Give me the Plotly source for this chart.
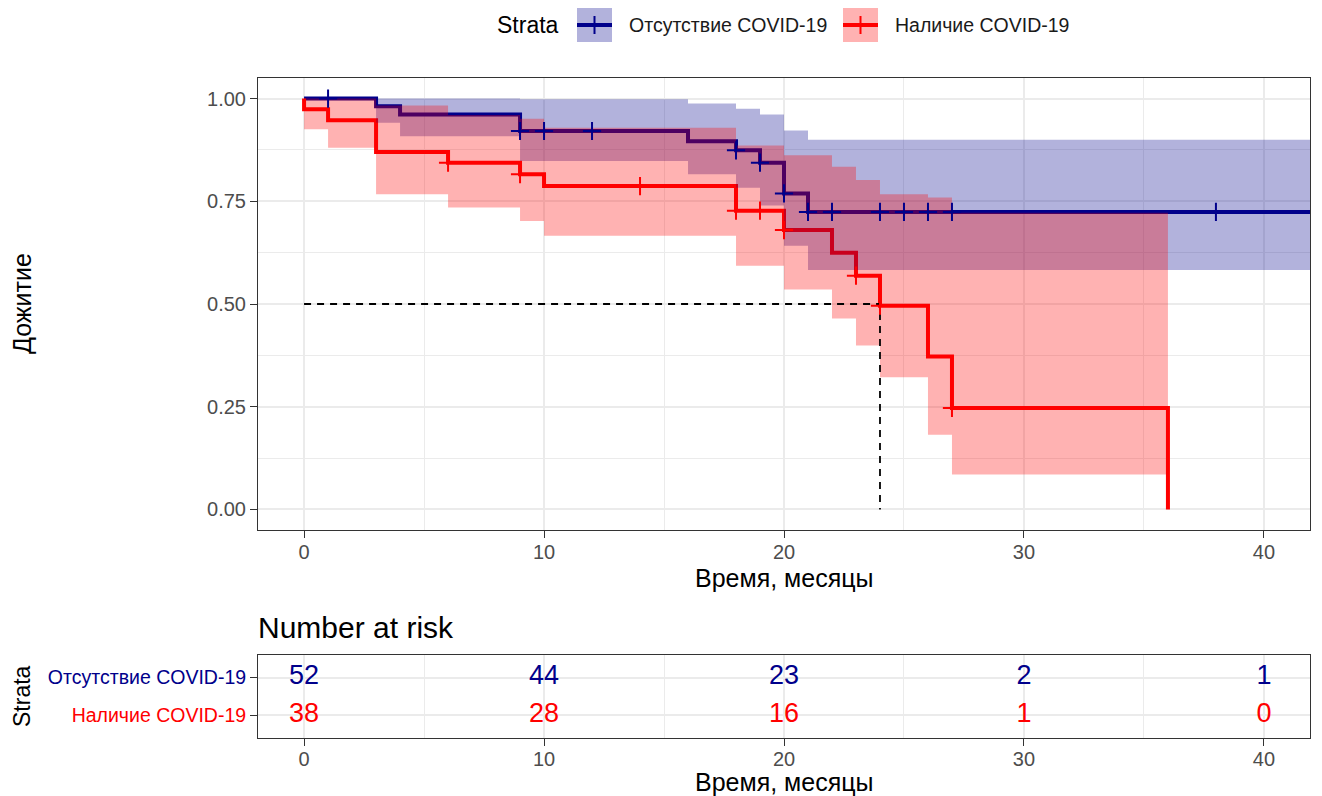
import plotly.graph_objects as go

# ---------------- data ----------------
strata_names = ["Отсутствие COVID-19", "Наличие COVID-19"]
blue_color = "#00008B"
red_color = "#FF0000"

# Отсутствие COVID-19
blue_time = [0, 3, 4, 9, 16, 18, 19, 20, 21]
blue_surv = [1.0, 0.981, 0.961, 0.921, 0.896, 0.874, 0.844, 0.769, 0.724]
blue_upper = [1.0, 1.0, 1.0, 0.998, 0.988, 0.975, 0.961, 0.922, 0.900]
blue_lower = [1.0, 0.941, 0.908, 0.848, 0.816, 0.783, 0.740, 0.642, 0.583]
blue_last_followup = 42.5
blue_censor = [1, 9, 10, 12, 18, 19, 20, 21, 22, 24, 25, 26, 27, 38]

# Наличие COVID-19
red_time = [0, 0, 1, 3, 6, 9, 10, 18, 20, 22, 23, 24, 26, 27, 36]
red_surv = [1.0, 0.974, 0.947, 0.870, 0.844, 0.816, 0.787, 0.727, 0.680,
            0.625, 0.569, 0.496, 0.372, 0.247, 0.0]
red_upper = [1.0, 1.0, 1.0, 0.983, 0.960, 0.951, 0.929, 0.886, 0.862,
             0.834, 0.802, 0.767, 0.759, 0.722]
red_lower = [1.0, 0.925, 0.880, 0.767, 0.735, 0.702, 0.666, 0.593, 0.535,
             0.465, 0.399, 0.322, 0.182, 0.085]
red_censor = [6, 9, 14, 18, 19, 20, 23, 24, 27]

# Number at risk
risk_times = [0, 10, 20, 30, 40]
risk_blue = [52, 44, 23, 2, 1]
risk_red = [38, 28, 16, 1, 0]

x_ticks = [0, 10, 20, 30, 40]
y_ticks = [0, 0.25, 0.5, 0.75, 1.0]

# ---------------- helpers ----------------
def step_value(times, vals, t):
    v = vals[0]
    for ti, vi in zip(times, vals):
        if ti <= t:
            v = vi
    return v

W, H = 1322, 796
def px(x):
    return x / W
def py(y):
    return 1 - y / H

FONT = "Liberation Sans, Arial, Helvetica, sans-serif"
GRID = "#EBEBEB"
TXT = "#4D4D4D"

fig = go.Figure()

# lines (drawn first, ribbons above them as in the reference)
fig.add_trace(go.Scatter(x=blue_time + [blue_last_followup], y=blue_surv + [blue_surv[-1]],
                         mode="lines", line=dict(color=blue_color, width=4, shape="hv"),
                         showlegend=False, xaxis="x", yaxis="y"))
fig.add_trace(go.Scatter(x=red_time, y=red_surv, mode="lines",
                         line=dict(color=red_color, width=4, shape="hv"),
                         showlegend=False, xaxis="x", yaxis="y"))

# ribbons
fig.add_trace(go.Scatter(x=blue_time + [blue_last_followup], y=blue_lower + [blue_lower[-1]],
                         mode="lines", line=dict(width=0, shape="hv", color="rgba(0,0,0,0)"),
                         showlegend=False, hoverinfo="skip"))
fig.add_trace(go.Scatter(x=blue_time + [blue_last_followup], y=blue_upper + [blue_upper[-1]],
                         mode="lines", line=dict(width=0, shape="hv", color="rgba(0,0,0,0)"),
                         fill="tonexty", fillcolor="rgba(0,0,139,0.3)",
                         showlegend=False, hoverinfo="skip"))
red_rib_t = red_time[:len(red_lower)] + [red_time[-1]]
fig.add_trace(go.Scatter(x=red_rib_t, y=red_lower + [red_lower[-1]],
                         mode="lines", line=dict(width=0, shape="hv", color="rgba(0,0,0,0)"),
                         showlegend=False, hoverinfo="skip"))
fig.add_trace(go.Scatter(x=red_rib_t, y=red_upper + [red_upper[-1]],
                         mode="lines", line=dict(width=0, shape="hv", color="rgba(0,0,0,0)"),
                         fill="tonexty", fillcolor="rgba(255,0,0,0.3)",
                         showlegend=False, hoverinfo="skip"))

# median line
median_t = next(t for t, s in zip(red_time, red_surv) if s <= 0.5)
fig.add_trace(go.Scatter(x=[0, median_t, median_t], y=[0.5, 0.5, 0],
                         mode="lines", line=dict(color="black", width=1.8, dash="7px,6px"),
                         showlegend=False, hoverinfo="skip"))

# censor marks
fig.add_trace(go.Scatter(x=blue_censor, y=[step_value(blue_time, blue_surv, t) for t in blue_censor],
                         mode="markers",
                         marker=dict(symbol="cross-thin", size=13, color=blue_color,
                                     line=dict(color=blue_color, width=2)),
                         showlegend=False))
fig.add_trace(go.Scatter(x=red_censor, y=[step_value(red_time, red_surv, t) for t in red_censor],
                         mode="markers",
                         marker=dict(symbol="cross-thin", size=13, color=red_color,
                                     line=dict(color=red_color, width=2)),
                         showlegend=False))

# risk table numbers
fig.add_trace(go.Scatter(x=risk_times, y=[2] * len(risk_times), mode="text",
                         text=[str(v) for v in risk_blue],
                         textfont=dict(size=27, color=blue_color, family=FONT),
                         showlegend=False, xaxis="x2", yaxis="y2"))
fig.add_trace(go.Scatter(x=risk_times, y=[1] * len(risk_times), mode="text",
                         text=[str(v) for v in risk_red],
                         textfont=dict(size=27, color=red_color, family=FONT),
                         showlegend=False, xaxis="x2", yaxis="y2"))

xdom = [px(258), px(1310)]
xrange = [-1.92, 41.92]
axis_common = dict(showline=True, mirror=True, linecolor="#333333", linewidth=1,
                   ticks="outside", ticklen=7, tickcolor="#333333", tickwidth=1,
                   zeroline=False, gridcolor=GRID, gridwidth=1.5,
                   tickfont=dict(family=FONT, size=20, color=TXT))

fig.update_layout(
    width=W, height=H,
    margin=dict(l=0, r=0, t=0, b=0),
    paper_bgcolor="white", plot_bgcolor="white",
    font=dict(family=FONT, color="#1A1A1A"),
    showlegend=False,
    xaxis=dict(domain=xdom, range=xrange, tickvals=x_ticks, anchor="y",
               ticklabelstandoff=-3,
               minor=dict(dtick=5, tick0=0, showgrid=True, gridcolor=GRID, gridwidth=0.8, ticks=""),
               **axis_common),
    yaxis=dict(domain=[py(530), py(78)], range=[-0.05, 1.05], tickvals=y_ticks,
               tickformat=".2f", anchor="x",
               minor=dict(dtick=0.125, tick0=0, showgrid=True, gridcolor=GRID, gridwidth=0.8, ticks=""),
               **axis_common),
    xaxis2=dict(domain=xdom, range=xrange, tickvals=x_ticks, anchor="y2",
                ticklabelstandoff=-4,
                minor=dict(dtick=5, tick0=0, showgrid=True, gridcolor=GRID, gridwidth=0.8, ticks=""),
                **axis_common),
    yaxis2=dict(domain=[py(738), py(655)], range=[0.4, 2.6], tickvals=[1, 2],
                ticktext=['<span style="color:%s">%s</span>' % (red_color, strata_names[1]),
                          '<span style="color:%s">%s</span>' % (blue_color, strata_names[0])],
                anchor="x2", **{**axis_common, "tickfont": dict(family=FONT, size=19.5)}),
)

ann = []
# axis titles
ann.append(dict(x=px(784), y=py(578), xref="paper", yref="paper", text="Время, месяцы",
                showarrow=False, font=dict(size=25, family=FONT, color="black"),
                xanchor="center", yanchor="middle"))
ann.append(dict(x=px(784), y=py(782), xref="paper", yref="paper", text="Время, месяцы",
                showarrow=False, font=dict(size=25, family=FONT, color="black"),
                xanchor="center", yanchor="middle"))
ann.append(dict(x=px(22), y=py(304), xref="paper", yref="paper", text="Дожитие",
                showarrow=False, textangle=-90, font=dict(size=25, family=FONT, color="black"),
                xanchor="center", yanchor="middle"))
ann.append(dict(x=px(22), y=py(696), xref="paper", yref="paper", text="Strata",
                showarrow=False, textangle=-90, font=dict(size=23, family=FONT, color="black"),
                xanchor="center", yanchor="middle"))
ann.append(dict(x=px(256), y=py(627), xref="paper", yref="paper", text="Number at risk",
                showarrow=False, font=dict(size=30, family=FONT, color="black"),
                xanchor="left", yanchor="middle"))

# legend (manual)
ann.append(dict(x=px(495), y=py(25), xref="paper", yref="paper", text="Strata",
                showarrow=False, font=dict(size=23, family=FONT, color="black"),
                xanchor="left", yanchor="middle"))
shapes = []
legend_items = [(577, 627, blue_color, "rgba(0,0,139,0.3)", strata_names[0]),
                (843, 893, red_color, "rgba(255,0,0,0.3)", strata_names[1])]
for kx, tx, col, fcol, name in legend_items:
    shapes.append(dict(type="rect", xref="paper", yref="paper",
                       x0=px(kx), x1=px(kx + 35), y0=py(42), y1=py(8),
                       fillcolor=fcol, line=dict(width=0)))
    shapes.append(dict(type="line", xref="paper", yref="paper",
                       x0=px(kx), x1=px(kx + 35), y0=py(25), y1=py(25),
                       line=dict(color=col, width=4)))
    shapes.append(dict(type="line", xref="paper", yref="paper",
                       x0=px(kx + 17.5), x1=px(kx + 17.5), y0=py(16), y1=py(34),
                       line=dict(color=col, width=2)))
    ann.append(dict(x=px(tx), y=py(25), xref="paper", yref="paper", text=name,
                    showarrow=False, font=dict(size=19.5, family=FONT, color="#1A1A1A"),
                    xanchor="left", yanchor="middle"))

fig.update_layout(annotations=ann, shapes=shapes)

fig.write_html("out.html", config={"displayModeBar": False},
               post_script="document.body.style.margin='0px';document.body.style.padding='0px';")
